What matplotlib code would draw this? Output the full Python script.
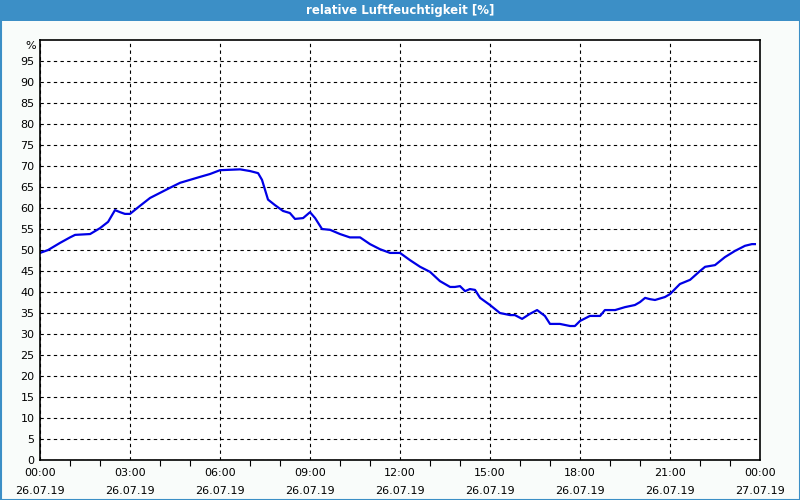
import numpy as np
import matplotlib.pyplot as plt
from matplotlib.patches import Rectangle

# Stunden seit 26.07.19 00:00 und rel. Luftfeuchte in %
hours = [0.0, 0.27, 0.67, 1.0, 1.17, 1.67, 2.0, 2.27, 2.5, 2.67, 2.83, 3.0,
         3.33, 3.67, 4.0, 4.33, 4.67, 5.0, 5.33, 5.67, 6.0, 6.33, 6.67, 7.0,
         7.27, 7.4, 7.6, 7.83, 8.1, 8.33, 8.5, 8.77, 9.0, 9.17, 9.4, 9.67,
         10.0, 10.33, 10.67, 11.0, 11.33, 11.67, 12.0, 12.33, 12.67, 13.0,
         13.33, 13.67, 13.83, 14.0, 14.17, 14.33, 14.5, 14.67, 15.0, 15.33,
         15.67, 15.83, 16.07, 16.33, 16.57, 16.83, 17.0, 17.33, 17.67, 17.83,
         18.0, 18.33, 18.67, 18.83, 19.17, 19.5, 19.83, 20.0, 20.17, 20.33,
         20.5, 20.83, 21.0, 21.33, 21.67, 22.0, 22.17, 22.5, 22.83, 23.17,
         23.5, 23.73, 23.83]
rh = [49.3, 50.0, 51.7, 53.0, 53.6, 53.8, 55.2, 56.7, 59.5, 59.0, 58.6, 58.6,
      60.5, 62.4, 63.6, 64.8, 66.0, 66.7, 67.4, 68.1, 69.0, 69.1, 69.2, 68.8,
      68.3, 66.7, 62.0, 60.7, 59.3, 58.8, 57.4, 57.6, 59.0, 57.6, 55.0, 54.8,
      53.8, 53.0, 53.0, 51.4, 50.2, 49.3, 49.3, 47.6, 46.0, 44.8, 42.6, 41.2,
      41.2, 41.4, 40.2, 40.7, 40.5, 38.6, 36.9, 35.0, 34.5, 34.5, 33.6, 34.8,
      35.7, 34.3, 32.4, 32.4, 31.9, 31.9, 33.1, 34.3, 34.3, 35.7, 35.7, 36.4,
      36.9, 37.6, 38.6, 38.3, 38.1, 38.8, 39.5, 41.9, 42.9, 45.0, 46.0, 46.4,
      48.3, 49.8, 51.0, 51.4, 51.4]

tick_hours = [0, 3, 6, 9, 12, 15, 18, 21, 24]
tick_labels = ['00:00\n26.07.19', '03:00\n26.07.19', '06:00\n26.07.19',
               '09:00\n26.07.19', '12:00\n26.07.19', '15:00\n26.07.19',
               '18:00\n26.07.19', '21:00\n26.07.19', '00:00\n27.07.19']
y_ticks = np.arange(0, 100, 5)

fig = plt.figure(figsize=(8, 5), dpi=100, facecolor='#f9fcfa')

# Titelbalken + Rahmen
fig.patches.append(Rectangle((0, 1 - 21/500.), 1, 21/500., transform=fig.transFigure,
                             facecolor='#3c8fc6', edgecolor='none'))
fig.patches.append(Rectangle((0.5/800, 0.5/500), 1 - 1/800., 1 - 1/500., transform=fig.transFigure,
                             facecolor='none', edgecolor='#3c8fc6', lw=1.5))
fig.text(0.5, 1 - 10.5/500., 'relative Luftfeuchtigkeit [%]', color='white',
         ha='center', va='center', fontsize=8.5, fontweight='bold')

ax = fig.add_axes([40/800., 40/500., 720/800., 420/500.])
ax.set_facecolor('white')
ax.plot(hours, rh, color='#0000e6', lw=1.6)

ax.set_xlim(0, 24)
ax.set_ylim(0, 100)
ax.set_xticks(tick_hours)
ax.set_xticklabels(tick_labels, fontsize=8, linespacing=1.9)
ax.set_xticks(np.arange(0, 25, 1), minor=True)
ax.set_yticks(y_ticks)
ax.set_yticklabels([str(v) for v in y_ticks], fontsize=8)
ax.tick_params(axis='y', length=0, pad=4)
ax.tick_params(axis='x', which='major', length=0, pad=6)
ax.tick_params(axis='x', which='minor', length=4, width=0.8, direction='out')

ax.grid(True, which='major', color='black', ls=(0, (3, 3)), lw=0.8)
for s in ax.spines.values():
    s.set_color('black')
    s.set_linewidth(1.2)

fig.text(36/800., 1 - 46/500., '%', ha='right', va='center', fontsize=8)

fig.savefig('out.png', dpi=100, facecolor=fig.get_facecolor())
